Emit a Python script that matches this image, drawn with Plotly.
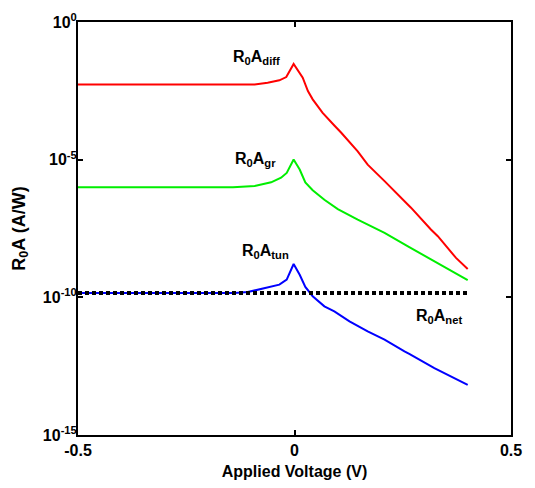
import plotly.graph_objects as go

# Applied voltage (V) and R0A (A/W)
v_diff = [-0.5, -0.092, -0.062, -0.035, -0.019, -0.002, 0.019, 0.031, 0.042, 0.065, 0.092, 0.108,
          0.146, 0.169, 0.208, 0.254, 0.269, 0.315, 0.331, 0.373, 0.4]
r_diff = [5.4e-3, 5.4e-3, 6.2e-3, 7.6e-3, 1.0e-2, 3.0e-2, 9.5e-3, 3.1e-3, 1.55e-3, 5.0e-4, 1.74e-4,
          9.5e-5, 2.0e-5, 6.6e-6, 1.66e-6, 3.1e-7, 1.8e-7, 2.9e-8, 1.66e-8, 2.7e-9, 1.07e-9]

v_gr = [-0.5, -0.142, -0.092, -0.054, -0.031, -0.018, -0.002, 0.012, 0.025, 0.042, 0.069, 0.1,
        0.146, 0.169, 0.208, 0.262, 0.323, 0.331, 0.4]
r_gr = [1.0e-6, 1.0e-6, 1.1e-6, 1.5e-6, 2.2e-6, 3.3e-6, 1.02e-5, 4.4e-6, 1.5e-6, 7.8e-7, 3.5e-7,
        1.6e-7, 6.6e-8, 4.4e-8, 2.2e-8, 7.1e-9, 2.0e-9, 1.78e-9, 4.2e-10]

v_tun = [-0.5, -0.138, -0.108, -0.069, -0.035, -0.018, -0.002, 0.012, 0.025, 0.042, 0.069, 0.092,
         0.127, 0.169, 0.208, 0.254, 0.265, 0.323, 0.369, 0.4]
r_tun = [1.45e-10, 1.45e-10, 1.55e-10, 2.1e-10, 2.9e-10, 4.4e-10, 1.62e-9, 6.6e-10, 2.4e-10,
         1.1e-10, 4.7e-11, 3.1e-11, 1.35e-11, 5.75e-12, 2.9e-12, 1.1e-12, 8.9e-13, 2.7e-13,
         1.17e-13, 6.6e-14]

v_net = [-0.5, 0.4]
r_net = [1.45e-10, 1.45e-10]

y_tickvals = [1e0, 1e-5, 1e-10, 1e-15]
y_ticktext = ["10<sup>0</sup>", "10<sup>-5</sup>", "10<sup>-10</sup>", "10<sup>-15</sup>"]
x_tickvals = [-0.5, 0, 0.5]
x_ticktext = ["-0.5", "0", "0.5"]

# label text, anchor x (V), anchor y (log10 of R0A)
labels = [
    ("<b>R<sub>0</sub>A<sub>diff</sub></b>", -0.028, -1.70),
    ("<b>R<sub>0</sub>A<sub>gr</sub></b>", -0.037, -5.41),
    ("<b>R<sub>0</sub>A<sub>tun</sub></b>", -0.009, -8.76),
    ("<b>R<sub>0</sub>A<sub>net</sub></b>", 0.392, -11.11),
]

FONT = "Liberation Sans, Arial, sans-serif"

fig = go.Figure()
fig.add_trace(go.Scatter(x=v_diff, y=r_diff, mode="lines", line=dict(color="#ff0000", width=2)))
fig.add_trace(go.Scatter(x=v_gr, y=r_gr, mode="lines", line=dict(color="#00ee00", width=2)))
fig.add_trace(go.Scatter(x=v_tun, y=r_tun, mode="lines", line=dict(color="#0000ff", width=2)))
fig.add_trace(go.Scatter(x=v_net, y=r_net, mode="lines",
                         line=dict(color="black", width=4, dash="4px,3px")))

for text, x, y in labels:
    fig.add_annotation(x=x, y=y, xref="x", yref="y", text=text, showarrow=False,
                       xanchor="right", yanchor="bottom",
                       font=dict(family=FONT, size=16, color="black"))

axis_common = dict(showgrid=False, zeroline=False, showline=True, linecolor="black", linewidth=2,
                   mirror="ticks", ticks="inside", ticklen=5, tickwidth=1.5, tickcolor="black",
                   automargin=False, tickfont=dict(family=FONT, size=16, color="black"))

fig.update_xaxes(range=[-0.5, 0.5], tickvals=x_tickvals,
                 ticktext=["<b>%s</b>" % t for t in x_ticktext],
                 title=dict(text="<b>Applied Voltage (V)</b>", font=dict(family=FONT, size=16, color="black"),
                            standoff=8),
                 **axis_common)
fig.update_yaxes(type="log", range=[-15, 0], tickvals=y_tickvals,
                 ticktext=["<b>%s</b>" % t for t in y_ticktext],
                 ticklabelstandoff=-4,
                 title=dict(text="<b>R<sub>0</sub>A (A/W)</b>", font=dict(family=FONT, size=18, color="black"),
                            standoff=13),
                 **axis_common)

fig.update_layout(width=519, height=472, showlegend=False, plot_bgcolor="white", paper_bgcolor="white",
                  margin=dict(l=70, r=16, t=14, b=45))

fig.write_html("out.html")
